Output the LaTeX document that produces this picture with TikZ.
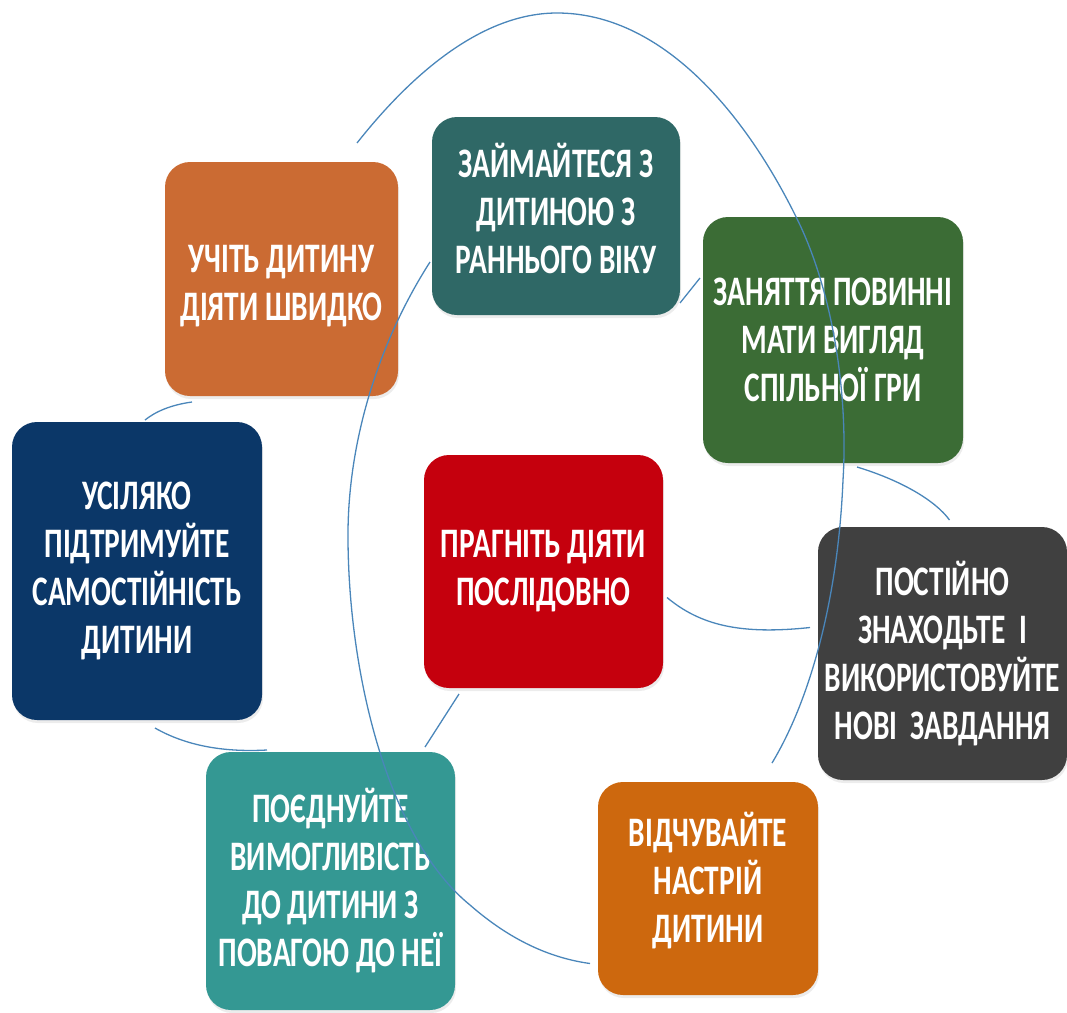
\documentclass[tikz,border=0pt]{standalone}
\usepackage{fontspec}
\setmainfont{Carlito}[FakeStretch=0.7]
\usetikzlibrary{calc,shadows}

\definecolor{teachc}{HTML}{CB6B33}
\definecolor{earlyc}{HTML}{2F6866}
\definecolor{playc}{HTML}{3B6C35}
\definecolor{supportc}{HTML}{0B3768}
\definecolor{strivec}{HTML}{C5000D}
\definecolor{tasksc}{HTML}{404040}
\definecolor{combinec}{HTML}{349893}
\definecolor{moodc}{HTML}{CD680E}
\definecolor{linkc}{HTML}{4A86BA}

\begin{document}
\begin{tikzpicture}[x=1pt, y=-1pt,
		box/.style = {shape=rectangle, rounded corners=25pt, align=center, text=white,
	inner sep=0pt, outer sep=0pt, font=\bfseries\fontsize{42}{48}\selectfont,
	drop shadow={shadow xshift=1pt, shadow yshift=-3pt, opacity=.15}},
		link/.style = {draw=linkc, line width=1.3pt}]
			\useasboundingbox (0,0) rectangle (1067,1012);
			% boxes round the ring
			\node[box, fill=teachc, minimum width=233pt, minimum height=234pt, text height=89pt] (teach) at (281.5,279) {УЧІТЬ ДИТИНУ\\ДІЯТИ ШВИДКО};
			\node[box, fill=earlyc, minimum width=248pt, minimum height=198pt, text depth=16pt] (early) at (556,216) {ЗАЙМАЙТЕСЯ З\\ДИТИНОЮ З\\РАННЬОГО ВІКУ};
			\node[box, fill=playc, minimum width=260pt, minimum height=246pt] (play) at (833,340) {ЗАНЯТТЯ ПОВИННІ\\МАТИ ВИГЛЯД\\СПІЛЬНОЇ ГРИ};
			\node[box, fill=supportc, minimum width=250pt, minimum height=298pt] (support) at (137,571) {УСІЛЯКО\\ПІДТРИМУЙТЕ\\САМОСТІЙНІСТЬ\\ДИТИНИ};
			\node[box, fill=strivec, minimum width=239pt, minimum height=233pt] (strive) at (543.5,571.5) {ПРАГНІТЬ ДІЯТИ\\ПОСЛІДОВНО};
			\node[box, fill=tasksc, minimum width=249pt, minimum height=253pt] (tasks) at (942.5,653.5) {ПОСТІЙНО\\ЗНАХОДЬТЕ~~І\\ВИКОРИСТОВУЙТЕ\\НОВІ~~ЗАВДАННЯ};
			\node[box, fill=combinec, minimum width=249pt, minimum height=258pt] (combine) at (330.5,881) {ПОЄДНУЙТЕ\\ВИМОГЛИВІСТЬ\\ДО ДИТИНИ З\\ПОВАГОЮ ДО НЕЇ};
			\node[box, fill=moodc, minimum width=220pt, minimum height=213pt, text depth=22pt] (mood) at (708,888.5) {ВІДЧУВАЙТЕ\\НАСТРІЙ\\ДИТИНИ};
			% ends of the long arcs
			\coordinate (topA) at ($(teach.north east)+(-41,-19)$);
			\coordinate (topB) at ($(mood.north)+(64,-19)$);
			\coordinate (leftA) at ($(early.south west)+(-2,-53)$);
			\coordinate (leftB) at ($(mood.west)+(-8,75)$);
			% long arcs
			\draw[link] (topA) .. controls (395,95) and (470,13) .. (557,13)
				.. controls (660,13) and (745,110) .. (800,225)
				.. controls (835,300) and (848,400) .. (843,480)
				.. controls (838,600) and (810,700) .. (topB);
			\draw[link] (leftA) .. controls (380,340) and (347,440) .. (348,540)
				.. controls (349,680) and (390,840) .. (470,905)
				.. controls (510,940) and (550,958) .. (leftB);
			% short links
			\draw[link] ($(teach.south west)+(27,6)$) .. controls (170,405) and (155,412) .. ($(support.north west)+(133,-2)$);
			\draw[link] ($(support.south)+(18,8)$) .. controls (190,748) and (230,752) .. ($(combine.north west)+(61,-2)$);
			\draw[link] ($(early.south east)+(0,-12)$) -- ($(play.west)+(-3,-62)$);
			\draw[link] ($(strive.south west)+(35,6)$) -- ($(combine.north east)+(-30,-5)$);
			\draw[link] ($(strive.east)+(4,26)$) .. controls (700,625) and (740,635) .. ($(tasks.west)+(-8,-26)$);
			\draw[link] ($(play.south)+(24,4)$) .. controls (900,480) and (935,500) .. ($(tasks.north)+(7,-7)$);
		\end{tikzpicture}
\end{document}
